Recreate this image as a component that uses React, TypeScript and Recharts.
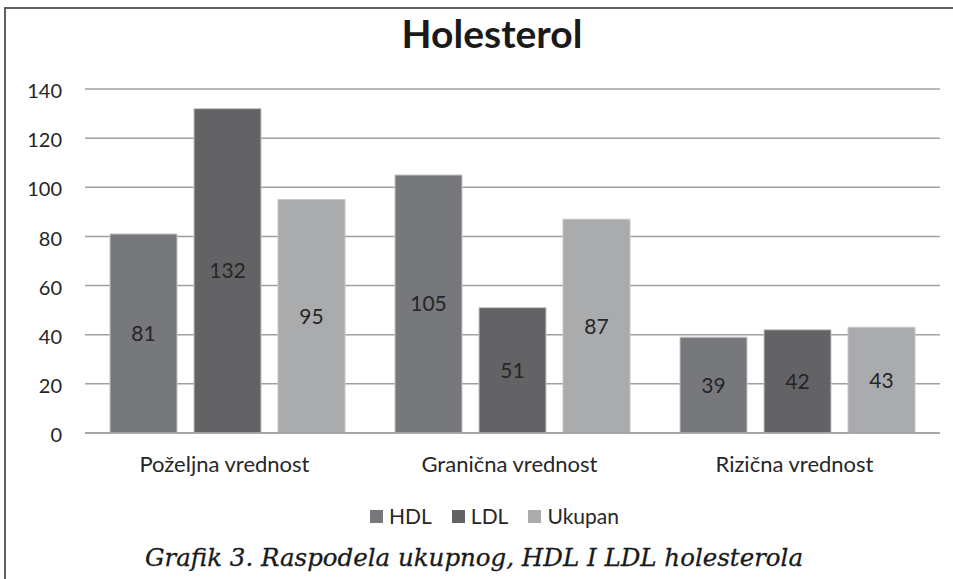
import React from 'react';
import { BarChart, Bar, XAxis, YAxis, CartesianGrid, Legend, LabelList } from 'recharts';

const categories = ['Poželjna vrednost', 'Granična vrednost', 'Rizična vrednost'];
const hdlValues = [81, 105, 39];
const ldlValues = [132, 51, 42];
const ukupanValues = [95, 87, 43];
const yTicks = [0, 20, 40, 60, 80, 100, 120, 140];
const seriesNames = ['HDL', 'LDL', 'Ukupan'];
const seriesColors = ['#77787c', '#636365', '#aaabad'];
const titleText = 'Holesterol';
const captionText = 'Grafik 3. Raspodela ukupnog, HDL I LDL holesterola';

const data = categories.map((c, i) => ({
  name: c,
  [seriesNames[0]]: hdlValues[i],
  [seriesNames[1]]: ldlValues[i],
  [seriesNames[2]]: ukupanValues[i],
}));

const textColor = '#262626';
const FONT = 'Lato, "Open Sans", sans-serif';

const renderLegend = (props: any) => (
  <div
    style={{
      display: 'flex',
      justifyContent: 'center',
      gap: 20,
      fontFamily: FONT,
      fontSize: 21,
      color: textColor,
      lineHeight: '24px',
    }}
  >
    {(props.payload || []).map((p: any) => (
      <div key={p.value} style={{ display: 'flex', alignItems: 'center' }}>
        <span
          style={{
            width: 13,
            height: 13,
            background: p.color,
            marginRight: 6,
            display: 'inline-block',
          }}
        />
        <span>{p.value}</span>
      </div>
    ))}
  </div>
);

export default function App() {
  return (
    <div
      style={{
        position: 'absolute',
        left: 0,
        top: 0,
        width: 953,
        height: 579,
        overflow: 'hidden',
        background: '#ffffff',
      }}
    >
      <div
        style={{
          position: 'absolute',
          left: 4,
          top: 7,
          width: 1000,
          height: 700,
          borderLeft: '2px solid #5f5f5f',
          borderTop: '2px solid #5f5f5f',
        }}
      />
      <BarChart
        width={953}
        height={579}
        data={data}
        margin={{ top: 89, right: 13, left: 0, bottom: 116 }}
        barCategoryGap={25}
        barGap={17}
        style={{ position: 'absolute', left: 0, top: 0 }}
      >
        <CartesianGrid vertical={false} stroke="#a0a0a0" strokeWidth={1.5} />
        <XAxis
          dataKey="name"
          height={30}
          tickSize={0}
          tickMargin={23}
          axisLine={{ stroke: '#a0a0a0', strokeWidth: 1.5 }}
          tick={{ fontSize: 22, fill: textColor, fontFamily: FONT, dx: -3 }}
        />
        <YAxis
          width={85}
          domain={[0, 140]}
          ticks={yTicks}
          interval={0}
          tickSize={0}
          tickMargin={23}
          axisLine={false}
          tickLine={false}
          tick={{ fontSize: 20, fill: textColor, fontFamily: FONT, dy: 2 }}
        />
        <Legend
          layout="horizontal"
          verticalAlign="middle"
          align="center"
          content={renderLegend}
          wrapperStyle={{ top: 504, left: 36, width: 917 }}
        />
        {seriesNames.map((s, i) => (
          <Bar
            key={s}
            dataKey={s}
            fill={seriesColors[i]}
            stroke="#c4c4c6"
            strokeWidth={1}
            isAnimationActive={false}
          >
            <LabelList
              dataKey={s}
              position="center"
              fill={textColor}
              fontSize={21}
              fontFamily={FONT}
            />
          </Bar>
        ))}
      </BarChart>
      <div
        style={{
          position: 'absolute',
          left: 492,
          top: 14,
          transform: 'translateX(-50%)',
          whiteSpace: 'nowrap',
          fontFamily: FONT,
          fontWeight: 700,
          fontSize: 39,
          lineHeight: '39px',
          color: '#1a1a1a',
        }}
      >
        {titleText}
      </div>
      <div
        style={{
          position: 'absolute',
          left: 474,
          top: 546,
          transform: 'translateX(-50%)',
          whiteSpace: 'nowrap',
          fontFamily: '"DejaVu Serif", serif',
          fontStyle: 'italic',
          fontSize: 24.5,
          lineHeight: '24.5px',
          color: '#1a1a1a',
          WebkitTextStroke: '0.3px #1a1a1a',
        }}
      >
        {captionText}
      </div>
    </div>
  );
}
